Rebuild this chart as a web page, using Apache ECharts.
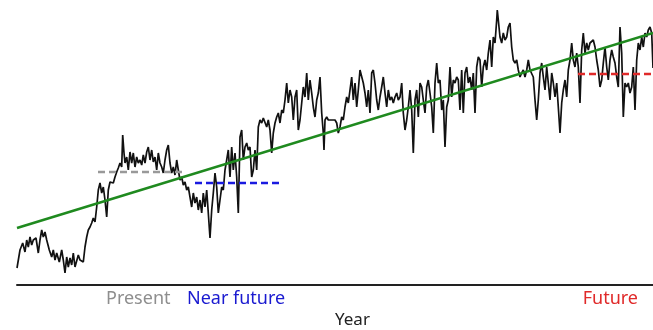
<!DOCTYPE html>
<html><head><meta charset="utf-8">
<script src="https://cdn.jsdelivr.net/npm/echarts@6/dist/echarts.min.js"></script>
<style>html,body{margin:0;padding:0;background:#fff}#c{width:653px;height:330px}</style>
</head><body><div id="c"></div>
<script>
// Observed series: [time step, value]
const observed = [
[0,17],[3,35],[5.7,42],[8,33],[9.7,45],[11.3,38],[13,48],[14.7,40],[16.3,45],[19,47],[21.3,32],[23,45],[24.7,55],[26.3,48],[28,53],[29.7,45],[32.3,35],[34.7,28],[36.3,35],[38,25],[39.7,32],[42.3,23],[44.7,35],[46.3,25],[48,12],[49.7,28],[51.3,18],[53,27],[54.7,20],[56.3,32],[58,18],[59.7,18],[61.3,30],[63,25],[64.7,27],[66.3,23],[68,38],[69.7,48],[71.3,55],[73,58],[74.7,62],[76.3,67],[78,63],[79.7,78],[81.3,95],[83,102],[84.7,92],[86.3,98],[88,85],[89.7,68],[91.3,95],
[93,103],[94.7,105],[96.3,102],[98,108],[99.7,113],[101.3,117],[103,122],[104.7,118],[105.7,150],[107,132],[108,122],[109.7,128],[111.3,115],[113,133],[114.7,122],[116.3,132],[118,118],[119.7,128],[121.3,122],[123,125],[124.7,120],[126.3,130],[128,122],[129.7,133],[131.3,138],[133,125],[134.7,135],[136.3,123],[138,128],[139.7,115],[141.3,132],[143,122],[144.7,118],[146.3,112],[148,125],[149.7,135],[151.3,140],[153,122],[154.7,112],[156.3,118],[158,110],[159.7,125],[161.3,115],[163,105],[164.7,108],[166.3,100],[168,103],[169.7,95],[171.3,98],[173,88],[174.7,78],[176.3,92],[178,82],[179.7,88],[181.3,75],[183,85],[184.7,72],[186.3,92],[188,78],[189.7,95],[191.3,72],[193,47],
[194.7,75],[196.3,92],[198,112],[199.7,98],[201.3,72],[203,85],[204.7,98],[206.3,95],[208,115],[209.7,125],[211.3,135],[213,108],[214.7,138],[216.3,115],[218,132],[219.7,108],[221.3,72],[223,148],[224.7,155],[226.3,125],[228,138],[229.7,142],[231.3,135],[233,138],[234.7,108],[236.3,115],[238,135],[239.7,115],[241.3,158],[243,165],[244.7,162],[246.3,167],[248,165],[249.7,158],[251.3,165],[253,155],[254.7,132],[256.3,152],[258,162],[259.7,168],[261.3,172],[263,162],[264.7,175],[266.3,172],[268,185],[269.7,202],[271.3,182],[273,195],[274.7,188],[276.3,165],[278,188],[279.7,195],[281.3,155],[283,165],[284.7,182],[286.3,198],[288,188],[289.7,212],[291.3,185],
[293,205],[294.7,192],[296.3,178],[298,168],[299.7,185],[301.3,192],[303,208],[304.7,172],[306.3,152],[307,135],[308,165],[309.7,168],[311.3,165],[313,167],[314.7,165],[316.3,163],[318,165],[319.7,162],[321.3,152],[323,158],[324.7,168],[326.3,165],[328,178],[329.7,188],[331.3,182],[333,195],[334.7,208],[336.3,185],[338,202],[339.7,178],[341.3,195],[343,215],[344.7,217],[346.3,202],[348,192],[349.7,178],[351.3,195],[353,172],[354.7,212],[356.3,215],[358,202],[359.7,185],[361.3,175],[363,188],[364.7,198],[366.3,208],[368,192],[369.7,178],[371.3,195],[373,185],[374.7,188],[376.3,182],[378,188],[379.7,192],[381.3,185],[383,188],[384.7,202],[386.3,172],[388,155],[389.7,165],[391.3,178],
[393,195],[394.7,175],[396.3,132],[398,185],[399.7,195],[401.3,168],[403,202],[404.7,198],[406.3,185],[408,172],[409.7,198],[411.3,205],[413,192],[414.7,178],[416.3,152],[418,202],[419.7,222],[421.3,202],[423,205],[424.7,175],[426.3,185],[428,138],[429.7,178],[431.3,185],[433,218],[434.7,188],[436.3,205],[438,202],[439.7,208],[441.3,205],[443,175],[444.7,215],[446.3,172],[448,212],[449.7,218],[451.3,202],[453,208],[454.7,195],[456.3,212],[458,172],[459.7,218],[461.3,228],[463,225],[464.7,198],[466.3,218],[468,225],[469.7,215],[471.3,232],[473,245],[474.7,218],[476.3,248],[478,242],[479.7,265],[480.3,275],[481.3,265],[483,248],[484.7,242],[486.3,252],[488,245],[489.7,248],[491.3,258],[493,262],[494.7,238],[496.3,225],[498,222],[499.7,225],[501.3,215],[503,208],[504.7,212],[506.3,215],[508,208],[509.7,215],[511.3,225],
[513,215],[516.3,208],[518,185],[519.7,165],[521.3,185],[523,212],[524.7,222],[526.3,208],[528,195],[529.7,218],[531.3,202],[533,185],[534.7,212],[536.3,202],[538,188],[539.7,202],[541.3,178],[543,152],[544.7,182],[546.3,195],[548,205],[549.7,188],[551.3,215],[553,225],[554.7,242],[556.3,225],[558,218],[559.7,232],[561.3,218],[563,182],[564.7,235],[566.3,252],[568,232],[569.7,242],[571.3,235],[573,242],[574.7,242],[576.3,245],[578,238],[579.7,225],[581.3,215],[583,198],[584.7,205],[586.3,222],[588,238],[589.7,218],[591.3,205],[593,225],[594.7,235],[596.3,228],[598,222],[599.7,208],[601.3,198],[603,258],[604.7,232],[606.3,168],[608,202],[609.7,198],[611.3,202],[613,192],[614.7,198],[616.3,218],[618,175],[619.7,225],[621.3,242],[623,235],[624.7,248],[626.3,238],[628,252],[629.7,248],[631.3,255],[633,258],[634.7,252],[636,217]
];
// Linear trend end points
const trendTime = [0, 636];
const trendValues = [57, 252];
// Period means
const periodNames = ['Present', 'Near future', 'Future'];
const periodStart = [81, 178, 561];
const periodEnd = [168, 265, 636];
const periodMean = [113, 102, 211];
const periodColors = ['#999999', '#1a1ae0', '#e02a2a'];
const axisTitle = 'Year';

const chart = echarts.init(document.getElementById('c'), null, {renderer: 'canvas'});
const series = [
  {type: 'line', data: observed, showSymbol: false, z: 2,
   lineStyle: {color: '#111', width: 1.7}},
  {type: 'line', data: trendTime.map((t, i) => [t, trendValues[i]]), showSymbol: false, z: 3,
   lineStyle: {color: '#1f8a1f', width: 2.6}}
];
periodNames.forEach((n, i) => {
  series.push({type: 'line', name: n, showSymbol: false, z: 4,
    data: [[periodStart[i], periodMean[i]], [periodEnd[i], periodMean[i]]],
    lineStyle: {color: periodColors[i], width: 2.4, type: [7, 4]}});
});
const labelFont = '"Noto Sans", "Liberation Sans", sans-serif';
chart.setOption({
  animation: false,
  grid: {left: 17, right: 0, top: 0, bottom: 45},
  xAxis: {type: 'value', min: 0, max: 636,
    axisLine: {show: true, onZero: false, lineStyle: {color: '#222', width: 2}},
    axisTick: {show: false}, axisLabel: {show: false}, splitLine: {show: false}},
  yAxis: {type: 'value', min: 0, max: 285, show: false},
  series: series,
  graphic: [
    {type: 'text', left: 106, top: 290, style: {text: periodNames[0], fill: '#8e8e8e', font: '18px ' + labelFont}},
    {type: 'text', left: 187, top: 290, style: {text: periodNames[1], fill: '#1a1ad0', font: '18px ' + labelFont}},
    {type: 'text', right: 15, top: 290, style: {text: periodNames[2], fill: periodColors[2], font: '18px ' + labelFont}},
    {type: 'text', left: 335, top: 312, style: {text: axisTitle, fill: '#222', font: '17px ' + labelFont}}
  ]
});
</script></body></html>
